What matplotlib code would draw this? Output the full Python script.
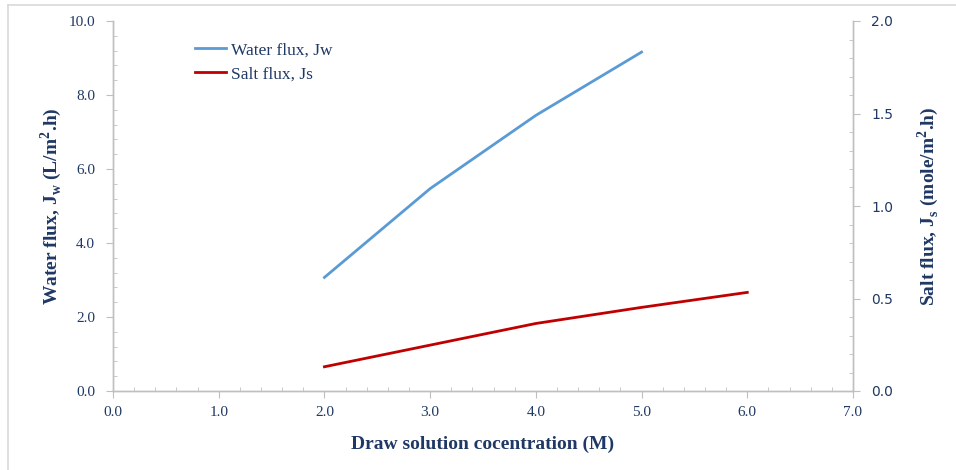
import matplotlib.pyplot as plt
from matplotlib.lines import Line2D
from matplotlib.ticker import MultipleLocator, FormatStrFormatter

plt.rcParams['mathtext.fontset'] = 'custom'
plt.rcParams['mathtext.rm'] = 'Liberation Serif:bold'
plt.rcParams['mathtext.bf'] = 'Liberation Serif:bold'

# data
conc_water = [2.0, 3.0, 4.0, 5.0]
water_flux = [3.07, 5.47, 7.45, 9.16]
conc_salt = [2.0, 3.0, 4.0, 5.0, 6.0]
salt_flux = [0.131, 0.248, 0.365, 0.452, 0.533]

navy = "#1F3864"
axis_grey = "#BFBFBF"

fig = plt.figure(figsize=(9.56, 4.7), dpi=100)
ax = fig.add_axes([113/956, 1 - 391/470, 740/956, 370/470])
ax2 = ax.twinx()

l1, = ax.plot(conc_water, water_flux, color="#5B9BD5", lw=2, label="Water flux, Jw")
l2, = ax2.plot(conc_salt, salt_flux, color="#C00000", lw=2, label="Salt flux, Js")

ax.set_xlim(0, 7)
ax.set_ylim(0, 10)
ax2.set_ylim(0, 2)

ax.xaxis.set_major_locator(MultipleLocator(1))
ax.xaxis.set_minor_locator(MultipleLocator(0.2))
ax.yaxis.set_major_locator(MultipleLocator(2))
ax.yaxis.set_minor_locator(MultipleLocator(0.4))
ax2.yaxis.set_major_locator(MultipleLocator(0.5))
ax2.yaxis.set_minor_locator(MultipleLocator(0.1))
ax.xaxis.set_major_formatter(FormatStrFormatter("%.1f"))
ax.yaxis.set_major_formatter(FormatStrFormatter("%.1f"))
ax2.yaxis.set_major_formatter(FormatStrFormatter("%.1f"))

for a in (ax, ax2):
    a.spines['top'].set_visible(False)
    for s in ('left', 'right', 'bottom'):
        a.spines[s].set_color(axis_grey)
        a.spines[s].set_linewidth(1)
    a.tick_params(which='major', direction='out', length=5, color=axis_grey)
    a.tick_params(which='minor', direction='in', length=3, color=axis_grey)

ax.tick_params(axis='y', labelcolor=navy, labelsize=11, pad=8)
ax.tick_params(axis='x', labelcolor=navy, labelsize=11, pad=6)
ax2.tick_params(axis='y', labelcolor=navy, labelsize=10, pad=8)
for t in ax.get_xticklabels() + ax.get_yticklabels():
    t.set_fontfamily("Liberation Serif")
for t in ax2.get_yticklabels():
    t.set_fontfamily("DejaVu Sans")

ax.set_xlabel("Draw solution cocentration (M)", fontfamily="Liberation Serif",
              fontweight="bold", fontsize=14, color=navy, labelpad=12)
ax.set_ylabel(r"Water flux, J$_\mathrm{w}$ (L/m$^\mathrm{2}$.h)", fontfamily="Liberation Serif",
              fontweight="bold", fontsize=14, color=navy, labelpad=3)
ax2.set_ylabel(r"Salt flux, J$_\mathrm{s}$ (mole/m$^\mathrm{2}$.h)", fontfamily="Liberation Serif",
               fontweight="bold", fontsize=14, color=navy, labelpad=16)

leg = ax.legend(handles=[l1, l2], loc="upper left", bbox_to_anchor=(0.09, 0.985),
                frameon=False, handlelength=1.75, handletextpad=0.3, labelspacing=0.45,
                prop={"family": "Liberation Serif", "size": 12.5})
for t in leg.get_texts():
    t.set_color(navy)

# light chart-area border
fig.add_artist(Line2D([8/956, 8/956], [0, 1 - 5/470], color="#D9D9D9", lw=1.2))
fig.add_artist(Line2D([8/956, 1], [1 - 5/470, 1 - 5/470], color="#D9D9D9", lw=1.2))

fig.savefig("out.png", dpi=100)
